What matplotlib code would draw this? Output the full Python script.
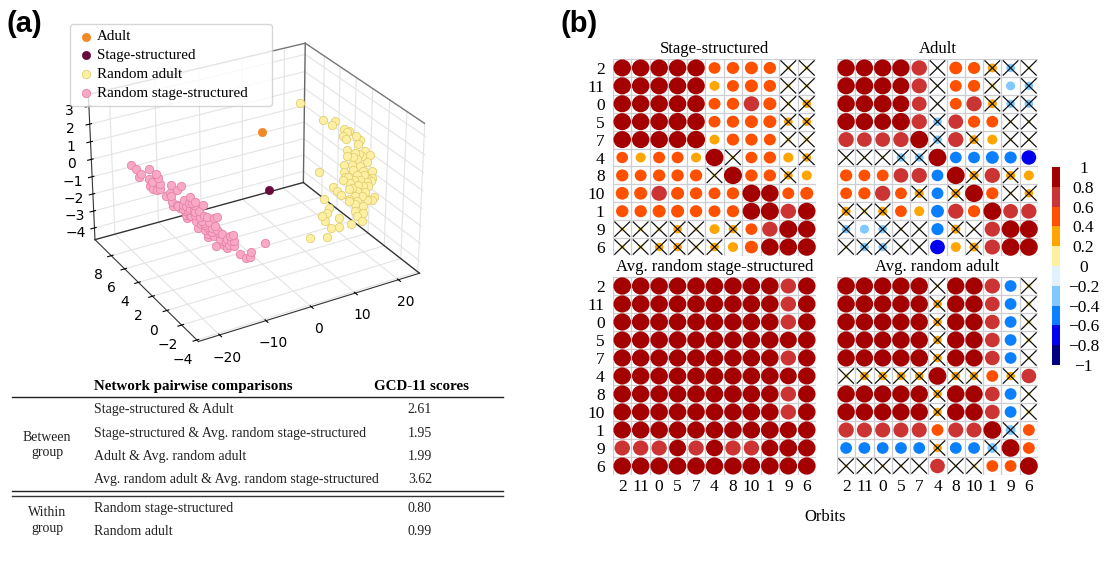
import matplotlib
matplotlib.use("Agg")
import matplotlib.pyplot as plt
from matplotlib.patches import Circle
from matplotlib.colors import ListedColormap, BoundaryNorm

W, H = 1110, 571
SERIF = "Liberation Serif"

# graphlet embedding of the networks
adult_pt = [3.4, 4.0, 1.9]
stage_pt = [5.0, 4.0, -1.5]
rand_stage_x = [-20.0, -19.4, -18.8, -19.0, -17.9, -17.0, -16.7, -17.9, -17.4, -16.5, -17.7, -17.4, -16.8, -16.6, -15.2,
                -14.0, -14.5, -15.2, -15.8, -15.3, -12.9, -13.6, -12.4, -11.4, -15.1, -14.9, -14.3, -13.7, -13.3, -12.7,
                -12.4, -13.1, -13.5, -13.8, -13.3, -12.7, -12.3, -11.9, -11.3, -11.5, -12.1, -10.9, -10.6, -10.0, -9.6,
                -9.9, -11.1, -12.0, -11.1, -10.5, -9.7, -10.7, -10.0, -9.0, -9.3, -8.4, -7.7, -7.6, -8.6, -8.3, -7.6,
                -8.5, -9.7, -6.9, -6.2, -5.7, -5.6, -3.9, -12.9, -11.7, -10.3, -9.5, -8.8, -13.1, -12.4, -14.5, -14.1,
                -13.4, -11.6, -10.9, -10.2, -8.2, -8.0, -12.3, -11.3, -10.7, -9.1, -12.9]
rand_stage_y = [7.6, 7.3, 7.0, 7.1, 6.4, 6.0, 5.9, 6.5, 6.3, 5.8, 6.5, 6.3, 6.0, 5.8, 5.1, 4.4, 4.7, 5.1, 5.5, 5.2, 3.9, 4.3,
                3.6, 3.1, 5.1, 5.0, 4.7, 4.4, 4.2, 3.8, 3.7, 4.1, 4.3, 4.4, 4.2, 3.9, 3.7, 3.4, 3.1, 3.2, 3.6, 2.9, 2.8, 2.5,
                2.3, 2.4, 3.0, 3.5, 3.1, 2.7, 2.3, 2.9, 2.5, 2.0, 2.1, 1.7, 1.3, 1.3, 1.8, 1.6, 1.3, 1.7, 2.4, 0.9, 0.5, 0.3,
                0.3, -0.6, 4.0, 3.3, 2.6, 2.2, 1.9, 4.0, 3.7, 4.8, 4.6, 4.2, 3.3, 2.9, 2.6, 1.5, 1.5, 3.6, 3.1, 2.9, 2.0, 4.0]
rand_stage_z = [.4, .2, 0, -.2, .4, .2, 0, -.2, -.3, -.3, -.6, -.7, -.7, -.6, -.2, -.1, -.4, -.8, -.9, -.7, -.6, -.9,
                -.8, -.9, -1.2, -1.4, -1.3, -1.2, -1.2, -.9, -1.3, -1.4, -1.5, -1.4, -1.9, -1.7, -1.6, -1.3, -1.5, -1.8,
                -1.9, -1.5, -1.8, -1.5, -1.4, -1.9, -2.0, -2.3, -2.3, -2.3, -2.1, -2.5, -2.5, -2.3, -2.6, -2.5, -2.2,
                -2.5, -2.7, -2.8, -2.8, -3.0, -3.1, -3.2, -3.3, -3.2, -2.9, -2.2, -1.7, -1.6, -2.1, -2.3, -2.9, -1.0,
                -1.0, -1.3, -1.4, -1.7, -2.0, -2.1, -2.3, -2.3, -2.6, -1.4, -1.9, -2.7, -2.7, -1.3]
rand_adult_x = [15.5, 19.0, 21.9, 20.8, 23.2, 24.1, 23.4, 22.3, 22.4, 25.3, 25.9, 24.9, 21.8, 25.8, 26.5, 23.2, 21.0, 24.5,
                25.1, 23.0, 19.3, 21.1, 21.0, 12.6, 25.2, 23.2, 18.6, 23.0, 21.4, 24.4, 18.7, 17.3, 21.4, 23.8, 18.7, 21.5,
                20.3, 22.7, 14.4, 17.9, 19.7, 14.6, 21.1, 15.1, 18.5, 11.0, 16.7, 22.8, 22.0, 18.6, 16.3, 17.6, 19.3, 11.1,
                16.8, 18.3, 9.9, 16.7, 8.4, 8.8, 12.5, 17.2, 14.4, 11.4, 9.4, 7.7, 3.4, 22.3, 23.9, 22.9, 23.6, 22.9, 19.9,
                18.3, 18.5, 20.0, 20.8]
rand_adult_y = [5.9, 4.9, 4.9, 4.6, 4.4, 4.2, 4.1, 4.0, 3.7, 4.0, 3.8, 3.5, 3.2, 3.1, 2.8, 3.0, 2.8, 2.8, 2.5, 2.6, 2.3, 2.3,
                2.0, 1.9, 1.9, 1.9, 1.9, 1.7, 1.7, 1.5, 1.5, 1.3, 1.4, 1.3, 1.2, 1.0, 1.1, 1.0, 1.0, 0.9, 0.8, 0.7, 0.6, 0.4,
                0.5, 0.3, 0.3, 0.4, 0.2, 0.2, 0.1, 0.0, -0.1, -0.3, -0.4, -0.6, -0.6, -0.7, -0.8, -1.0, -0.8, -1.1, -1.2,
                -1.4, -1.4, -1.9, -2.1, 2.7, 2.9, 2.2, 1.5, 1.3, 1.4, 1.6, 0.9, 0.4, 0.2]
rand_adult_z = [2.2, 1.3, 1.1, 1.0, 0.7, 0.6, 0.6, 0.5, 0.4, 0.3, 0.1, -0.0, 0.0, -0.3, -0.5, -0.2, -0.2, -0.4, -0.7, -0.4,
                -0.4, -0.5, -0.7, -0.2, -1.0, -0.9, -0.6, -1.0, -0.9, -1.2, -0.8, -0.8, -1.1, -1.3, -1.0, -1.3, -1.2, -1.4,
                -0.9, -1.2, -1.4, -1.0, -1.5, -1.2, -1.5, -1.1, -1.5, -1.8, -1.9, -1.7, -1.5, -1.7, -1.9, -1.4, -1.9, -2.1,
                -1.5, -2.1, -1.5, -1.7, -1.9, -2.3, -2.2, -2.1, -2.0, -2.2, -1.9, -0.3, -0.3, -0.7, -1.2, -1.3, -1.0, -0.8,
                -1.2, -1.6, -1.8]

orbits = ["2", "11", "0", "5", "7", "4", "8", "10", "1", "9", "6"]

# correlation values, row by row in orbit order
stage = [
    [.9, .9, .9, .9, .9, .42, .45, .5, .45, .1, .1],
    [.9, .9, .9, .9, .9, .3, .42, .5, .45, .1, .1],
    [.9, .9, .9, .9, .9, .42, .45, .7, .5, .1, .22],
    [.9, .9, .9, .95, .9, .42, .45, .5, .5, .22, .22],
    [.9, .9, .9, .9, .95, .3, .45, .45, .42, .15, .15],
    [.4, .3, .42, .42, .3, .95, .1, .42, .45, .3, .22],
    [.45, .42, .45, .45, .45, .1, .95, .45, .45, .22, .3],
    [.5, .5, .7, .5, .45, .42, .45, .95, .9, .42, .5],
    [.45, .45, .5, .5, .45, .42, .45, .9, .95, .7, .9],
    [.1, .1, .1, .22, .1, .3, .22, .42, .7, .95, .9],
    [.1, .1, .22, .22, .1, .22, .3, .5, .9, .9, .95],
]
adult = [
    [.9, .9, .9, .9, .72, .05, .5, .45, .25, -.22, .05],
    [.9, .95, .9, .85, .7, .05, .42, .45, .15, -.25, -.22],
    [.9, .9, .95, .85, .65, .05, .42, .7, .25, -.22, -.22],
    [.9, .9, .85, .95, .7, -.22, .65, .45, .42, .05, .05],
    [.7, .65, .65, .7, .95, -.22, .7, .25, .3, .05, .05],
    [.05, .05, .05, -.22, -.22, .95, -.42, -.42, -.5, -.45, -.65],
    [.45, .42, .42, .65, .7, -.42, .95, .25, .7, .25, .3],
    [.42, .45, .7, .42, .25, -.42, .25, .95, .45, .05, .22],
    [.25, .15, .25, .42, .3, -.5, .7, .45, .95, .65, .7],
    [-.22, -.25, -.22, .05, .05, -.45, .25, .05, .7, .95, .95],
    [.05, -.22, -.22, .05, .05, -.65, .3, .25, .7, .95, .95],
]
rand_stage = [
    [.92, .9, .9, .9, .9, .9, .9, .9, .9, .7, .9],
    [.9, .92, .9, .9, .9, .9, .9, .9, .9, .7, .9],
    [.9, .9, .92, .9, .9, .9, .9, .9, .9, .7, .9],
    [.9, .9, .9, .92, .9, .9, .9, .9, .9, .85, .9],
    [.9, .9, .9, .9, .92, .9, .9, .9, .9, .7, .9],
    [.9, .9, .9, .9, .9, .92, .9, .9, .9, .85, .9],
    [.9, .9, .9, .9, .9, .9, .92, .9, .9, .7, .9],
    [.9, .9, .9, .9, .9, .9, .9, .92, .9, .7, .9],
    [.9, .9, .9, .9, .9, .9, .9, .9, .92, .85, .9],
    [.7, .7, .7, .85, .7, .85, .7, .7, .85, .92, .9],
    [.9, .9, .9, .9, .9, .9, .9, .9, .9, .9, .92],
]
rand_adult = [
    [.92, .9, .9, .9, .9, .1, .9, .9, .7, -.42, .1],
    [.9, .92, .9, .9, .9, .22, .9, .9, .65, -.42, .1],
    [.9, .9, .92, .9, .9, .22, .9, .9, .65, -.42, .1],
    [.9, .9, .9, .92, .9, .22, .9, .9, .65, -.42, .1],
    [.9, .9, .9, .9, .92, .22, .9, .9, .65, -.42, .05],
    [.1, .22, .22, .22, .22, .95, .22, .22, .42, .22, .65],
    [.9, .9, .9, .9, .9, .22, .92, .9, .65, -.42, .05],
    [.9, .9, .9, .9, .9, .22, .9, .92, .65, -.42, .1],
    [.7, .68, .68, .68, .68, .42, .68, .68, .95, -.3, .42],
    [-.42, -.42, -.42, -.42, -.42, .22, -.42, -.42, -.3, .95, .42],
    [.05, .05, .05, .05, .05, .65, .05, .1, .42, .42, .95],
]

# cells marked with a cross (not significant), (row, column)
stage_ns = [(0, 9), (0, 10), (1, 9), (1, 10), (2, 9), (2, 10), (3, 9), (3, 10), (4, 9), (4, 10),
            (5, 6), (5, 10), (6, 5), (6, 9), (9, 0), (9, 1), (9, 2), (9, 3), (9, 4), (9, 6),
            (10, 0), (10, 1), (10, 2), (10, 3), (10, 4), (10, 5)]
adult_ns = [(0, 5), (0, 8), (0, 9), (0, 10), (1, 5), (1, 8), (1, 10), (2, 5), (2, 8), (2, 9), (2, 10),
            (3, 5), (3, 9), (3, 10), (4, 5), (4, 7), (4, 9), (4, 10), (5, 0), (5, 1), (5, 2), (5, 3), (5, 4),
            (6, 7), (6, 9), (7, 4), (7, 6), (7, 9), (7, 10), (8, 0), (8, 1), (8, 2),
            (9, 0), (9, 2), (9, 3), (9, 4), (9, 6), (9, 7), (10, 0), (10, 1), (10, 2), (10, 3), (10, 4), (10, 7)]
rand_stage_ns = []
rand_adult_ns = [(r, 5) for r in (0, 1, 2, 3, 4, 6, 7)] + [(r, 10) for r in (0, 1, 2, 3, 4, 6, 7)] \
    + [(5, c) for c in (0, 1, 2, 3, 4, 6, 7, 9)] + [(8, 9), (9, 5), (9, 8)] \
    + [(10, c) for c in (0, 1, 2, 3, 4, 6, 7)]

level_colors = ["#000080", "#0000f0", "#0a80ff", "#80c8ff", "#e2f1ff",
                "#fff0a0", "#ffa500", "#ff5000", "#cc3333", "#a50000"]
levels = [-1, -.8, -.6, -.4, -.2, 0, .2, .4, .6, .8, 1]
level_labels = ["\u22121", "\u22120.8", "\u22120.6", "\u22120.4", "\u22120.2", "0", "0.2", "0.4", "0.6", "0.8", "1"]
cmap = ListedColormap(level_colors)
norm = BoundaryNorm(levels, cmap.N)

comparisons = ["Stage-structured & Adult",
               "Stage-structured & Avg. random stage-structured",
               "Adult & Avg. random adult",
               "Avg. random adult & Avg. random stage-structured",
               "Random stage-structured",
               "Random adult"]
scores = ["2.61", "1.95", "1.99", "3.62", "0.80", "0.99"]


def px_axes(left, top, right, bottom, **kw):
    return fig.add_axes([left / W, 1 - bottom / H, (right - left) / W, (bottom - top) / H], **kw)


def corr_panel(box, values, crossed, title, row_labels, col_labels):
    ax = px_axes(*box)
    n = len(orbits)
    ax.set_xlim(0, n)
    ax.set_ylim(n, 0)
    for k in range(n + 1):
        ax.axvline(k, color="#cdcdd4", lw=0.9, zorder=1)
        ax.axhline(k, color="#cdcdd4", lw=0.9, zorder=1)
    for r, row in enumerate(values):
        for c, v in enumerate(row):
            rad = 0.5 * abs(v) ** 0.5
            ax.add_patch(Circle((c + .5, r + .5), rad, fc=cmap(norm(v)), ec="none", zorder=2))
    for r, c in crossed:
        ax.plot([c + .1, c + .9], [r + .1, r + .9], color="#111111", lw=0.9, zorder=3)
        ax.plot([c + .1, c + .9], [r + .9, r + .1], color="#111111", lw=0.9, zorder=3)
    ax.set_xticks([i + .5 for i in range(n)])
    ax.set_yticks([i + .5 for i in range(n)])
    ax.set_xticklabels(orbits if col_labels else [], family=SERIF, fontsize=12.5)
    ax.set_yticklabels(orbits if row_labels else [], family=SERIF, fontsize=12.5)
    ax.tick_params(length=0, pad=6)
    ax.tick_params(axis="x", pad=3)
    for s in ax.spines.values():
        s.set_visible(False)
    ax.set_title(title, family=SERIF, fontsize=12, pad=4)
    return ax


fig = plt.figure(figsize=(W / 100, H / 100), dpi=100)

# panel (a), 3D scatter
ax3 = fig.add_axes([0.0, 0.3, 0.46, 0.7], projection="3d")
ax3.set_position([60 / W, 1 - 364 / H, 380 / W, 350 / H])
ax3.view_init(elev=28, azim=-120)
ax3.set_box_aspect((1.125, 1, 0.74), zoom=1.045)
x0, x1 = -24.5, 25
y0, y1 = -4.2, 10.5
z0, z1 = -4.7, 3.65
ax3.set_xlim(x0, x1)
ax3.set_ylim(y0, y1)
ax3.set_zlim(z0, z1)
ax3.set_xticks([-20, -10, 0, 10, 20])
ax3.set_yticks([-4, -2, 0, 2, 4, 6, 8])
ax3.set_zticks([-4, -3, -2, -1, 0, 1, 2, 3])
ax3.tick_params(labelsize=10, pad=0)
for axis in (ax3.xaxis, ax3.yaxis, ax3.zaxis):
    axis.set_pane_color((1, 1, 1, 0))
    axis.line.set_color("#333333")
    axis._axinfo["grid"].update(color="#e4e4e4", linewidth=0.8)
# back edges of the box
ax3.plot([x1, x1], [y1, y1], [z0, z1], color="#666666", lw=1)
ax3.plot([x1, x0], [y1, y1], [z1, z1], color="#777777", lw=1)
ax3.plot([x1, x1], [y1, y0], [z1, z1], color="#777777", lw=1)
ax3.plot([x0, x1], [y1, y1], [z0, z0], color="#333333", lw=1)
ax3.plot([x1, x1], [y1, y0], [z0, z0], color="#333333", lw=1)

ax3.scatter([adult_pt[0]], [adult_pt[1]], [adult_pt[2]], s=36, c="#f28a24", edgecolors="#e8801e", linewidths=.4,
            depthshade=False, label="Adult")
ax3.scatter([stage_pt[0]], [stage_pt[1]], [stage_pt[2]], s=36, c="#6a0a3c", edgecolors="#5a0632", linewidths=.4,
            depthshade=False, label="Stage-structured")
ax3.scatter(rand_adult_x, rand_adult_y, rand_adult_z, s=36, c="#fdf0a2", edgecolors="#e3cf72", linewidths=.6,
            depthshade=False, label="Random adult")
ax3.scatter(rand_stage_x, rand_stage_y, rand_stage_z, s=36, c="#f9a9c6", edgecolors="#e583a8", linewidths=.6,
            depthshade=False, label="Random stage-structured")

fig.legend(*ax3.get_legend_handles_labels(), loc="upper left", mode="expand",
           bbox_to_anchor=(70 / W, 1 - 104 / H, 202 / W, 80 / H), bbox_transform=fig.transFigure,
           borderaxespad=0, prop={"family": SERIF, "size": 10.8},
           handlelength=1.3, handletextpad=0.1, labelspacing=0.36, borderpad=0.4)

# panel (b), orbit correlation matrices
corr_panel((613, 59, 816, 256), stage, stage_ns, "Stage-structured", True, False)
corr_panel((837, 59, 1038, 256), adult, adult_ns, "Adult", False, False)
corr_panel((613, 277, 816, 475), rand_stage, rand_stage_ns, "Avg. random stage-structured", True, True)
corr_panel((837, 277, 1038, 475), rand_adult, rand_adult_ns, "Avg. random adult", False, True)

cax = px_axes(1052, 167, 1060, 365)
sm = plt.cm.ScalarMappable(norm=norm, cmap=cmap)
cb = fig.colorbar(sm, cax=cax, ticks=levels, spacing="uniform")
cb.outline.set_visible(False)
cb.ax.set_yticklabels(level_labels, family=SERIF, fontsize=12.5, ha="center")
cb.ax.tick_params(length=0, pad=17)

# overlay in pixel units for the table and panel letters
ov = fig.add_axes([0, 0, 1, 1], facecolor="none")
ov.set_xlim(0, W)
ov.set_ylim(H, 0)
ov.axis("off")
ov.text(7, 24, "(a)", family="Liberation Sans", fontweight="bold", fontsize=21, va="center")
ov.text(561, 24, "(b)", family="Liberation Sans", fontweight="bold", fontsize=21, va="center")
ov.text(825, 517, "Orbits", family=SERIF, fontsize=12, ha="center", va="center")

ov.text(94, 390, "Network pairwise comparisons", family=SERIF, fontweight="bold", fontsize=10.8, va="baseline")
ov.text(421, 390, "GCD-11 scores", family=SERIF, fontweight="bold", fontsize=10.8, va="baseline", ha="center")
ov.plot([12, 503], [397, 397], color="#222222", lw=1)
ov.plot([12, 503], [491, 491], color="#222222", lw=1)
ov.plot([12, 503], [496, 496], color="#333333", lw=1)
row_y = [413, 437, 460, 483, 512, 535]
for y, name, score in zip(row_y, comparisons, scores):
    ov.text(94, y, name, family=SERIF, fontsize=10, va="baseline", color="#222222")
    ov.text(420, y, score, family=SERIF, fontsize=10, va="baseline", ha="center", color="#222222")
for y, s in zip([441, 456, 516, 532], ["Between", "group", "Within", "group"]):
    ov.text(47, y, s, family=SERIF, fontsize=10, va="baseline", ha="center", color="#222222")

fig.savefig("out.png", dpi=100)
